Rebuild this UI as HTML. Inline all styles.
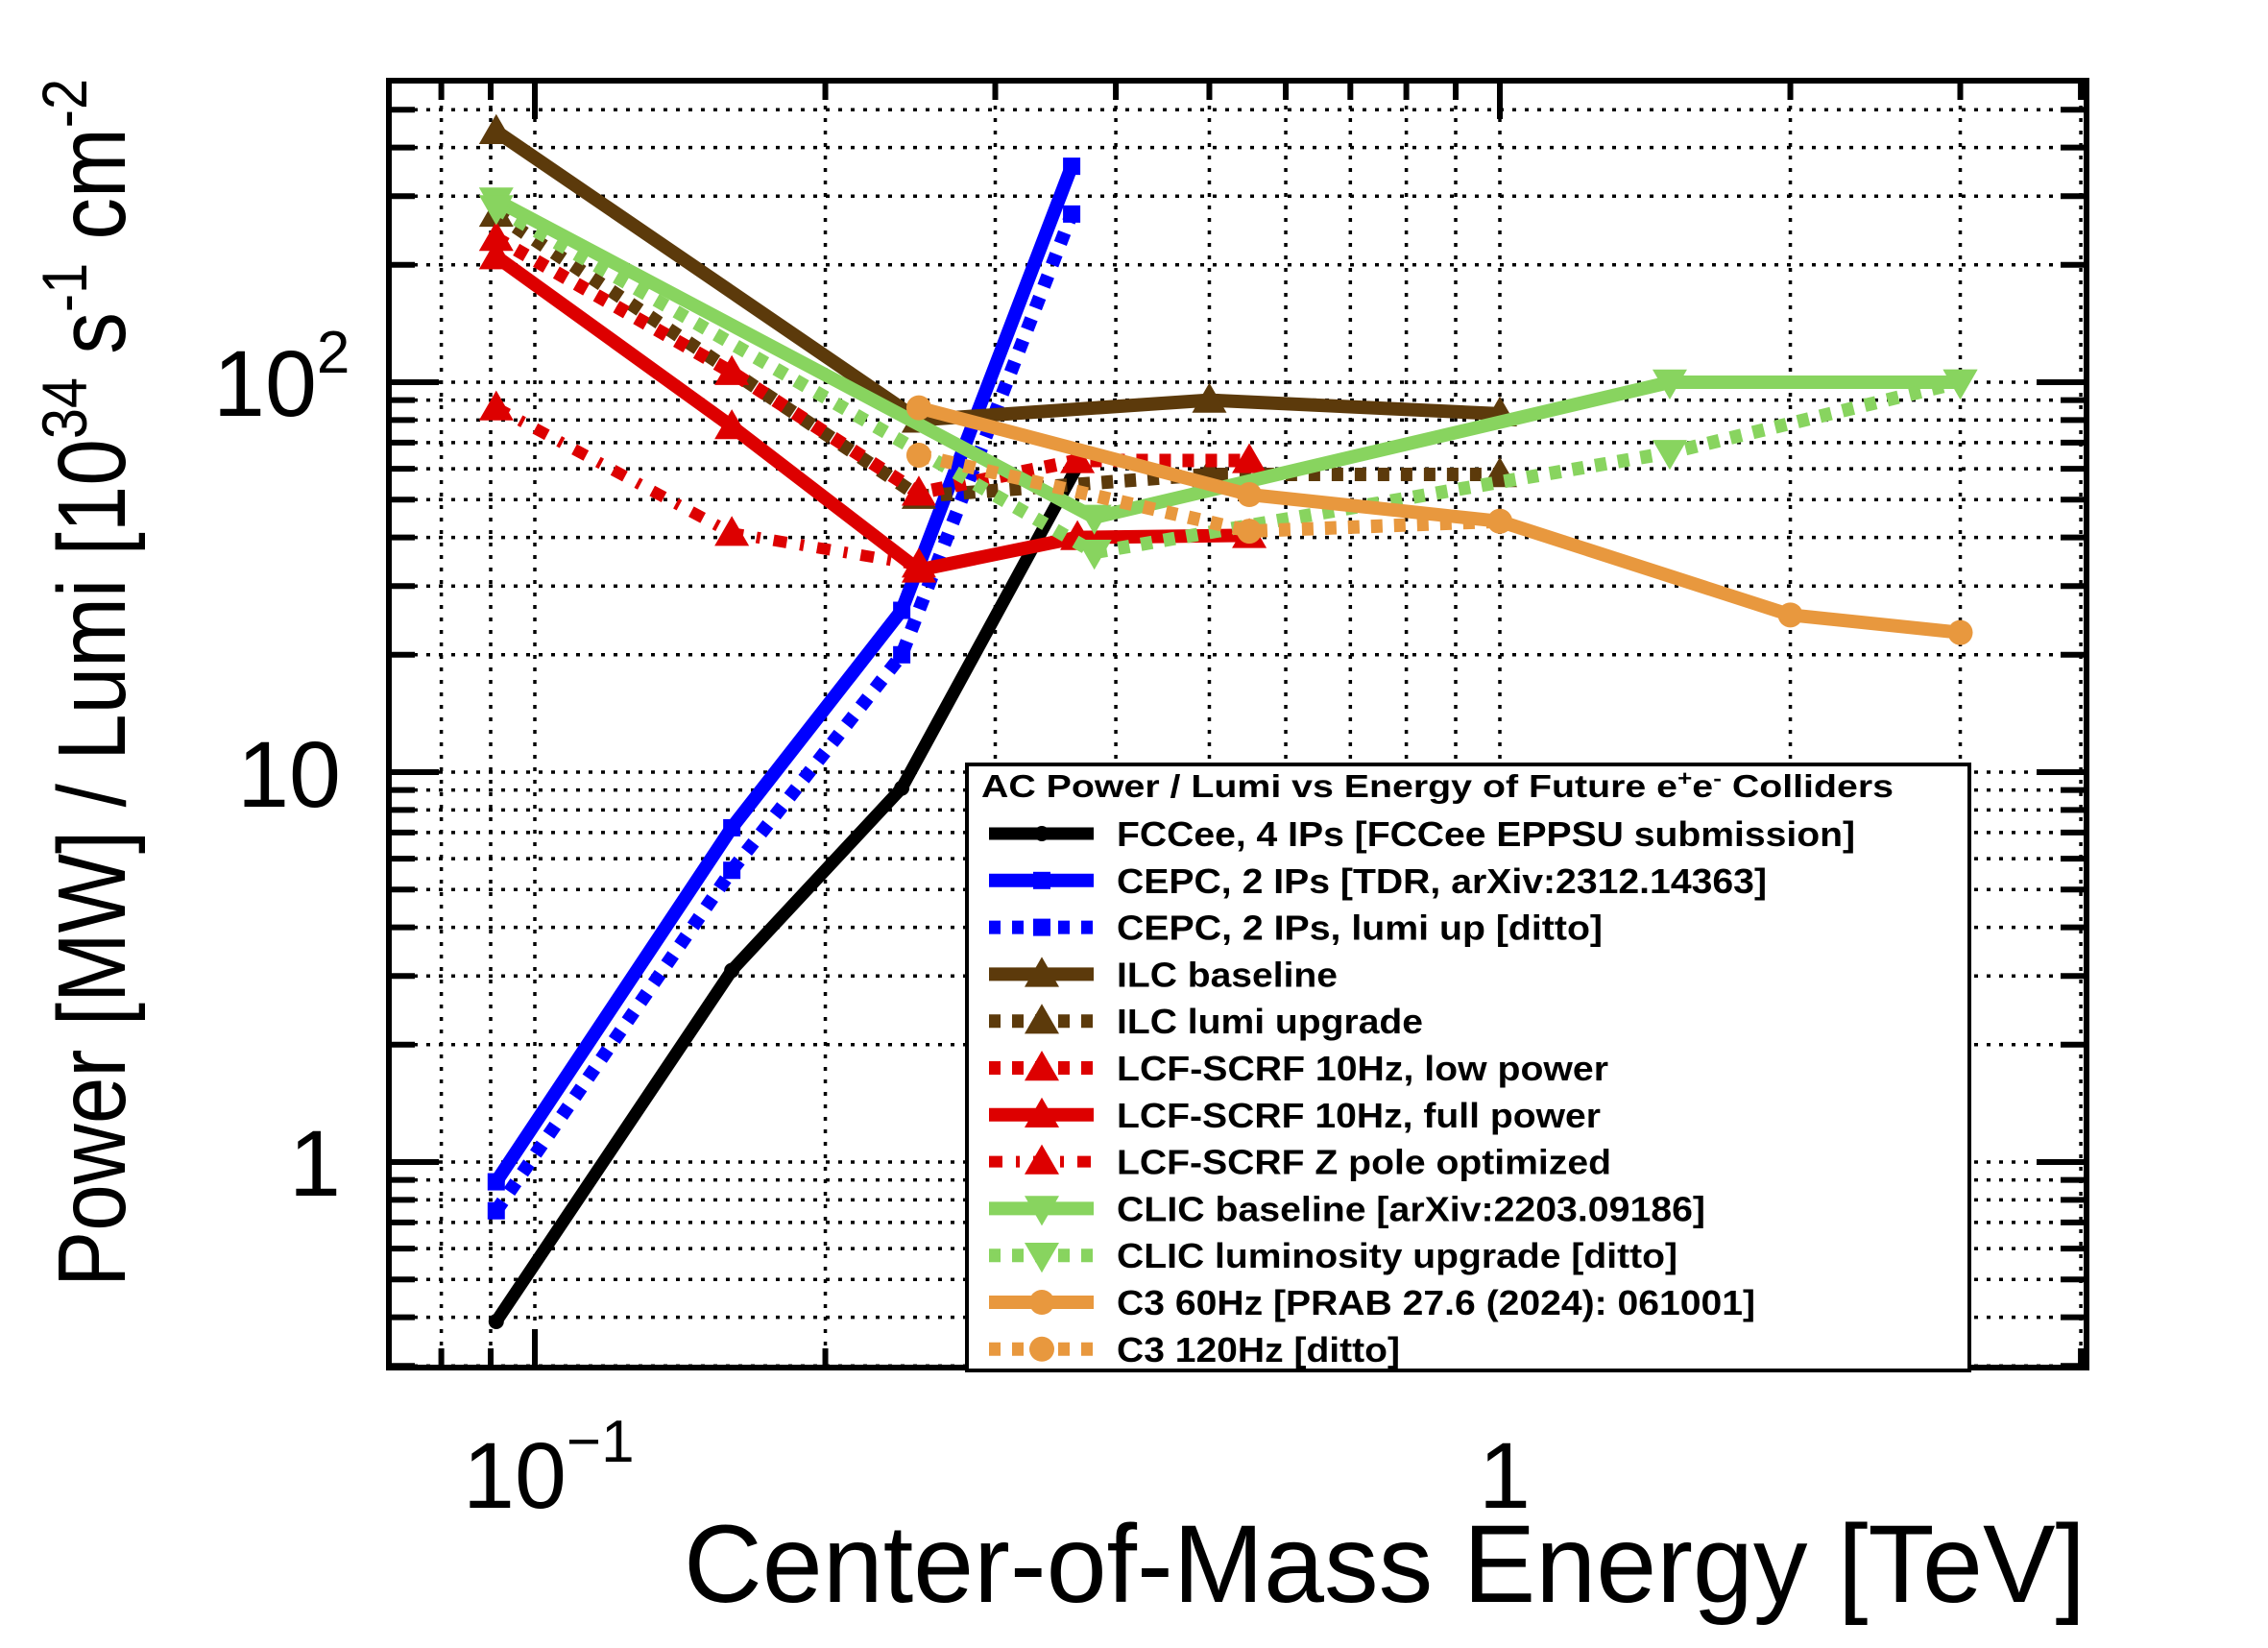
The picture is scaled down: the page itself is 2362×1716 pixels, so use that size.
<!DOCTYPE html>
<html>
<head>
<meta charset="utf-8">
<style>
html,body{margin:0;padding:0;background:#fff;}
svg{display:block;}
text{font-family:"Liberation Sans",Arial,sans-serif;}
</style>
</head>
<body>
<svg id="chart" width="2362" height="1716" viewBox="0 0 2362 1716" xmlns="http://www.w3.org/2000/svg">
  <rect x="0" y="0" width="2362" height="1716" fill="#fff"/>
  <g id="grid"></g>
  <g id="ticks"></g>
  <g id="series"></g>
  <rect x="405" y="84" width="1768" height="1340" fill="none" stroke="#000" stroke-width="6"/>
  <g id="legend">
    <rect x="1007" y="796" width="1044" height="631" fill="#fff" stroke="#000" stroke-width="4"/>
    <text x="1022" y="830" font-size="33" font-weight="bold" textLength="950" lengthAdjust="spacingAndGlyphs">AC Power / Lumi vs Energy of Future e<tspan dy="-12" font-size="22">+</tspan><tspan dy="12">e</tspan><tspan dy="-12" font-size="22">-</tspan><tspan dy="12"> Colliders</tspan></text>
  </g>
  <g id="xlabels">
    <text x="482" y="1570" font-size="97">10<tspan dy="-48" font-size="62">−1</tspan></text>
    <text x="1567" y="1570" font-size="97" text-anchor="middle">1</text>
    <text x="2172" y="1668" font-size="115" text-anchor="end" textLength="1460" lengthAdjust="spacingAndGlyphs">Center-of-Mass Energy [TeV]</text>
  </g>
  <g id="ylabels">
    <text x="355" y="1245" font-size="97" text-anchor="end">1</text>
    <text x="355" y="840" font-size="97" text-anchor="end">10</text>
    <text x="222" y="433" font-size="97">10<tspan dy="-45" font-size="62">2</tspan></text>
    <text transform="translate(130,1340) rotate(-90)" font-size="100" textLength="1258" lengthAdjust="spacingAndGlyphs">Power [MW] / Lumi [10<tspan dy="-40" font-size="66">34</tspan><tspan dy="40"> s</tspan><tspan dy="-40" font-size="66">-1</tspan><tspan dy="40"> cm</tspan><tspan dy="-40" font-size="66">-2</tspan></text>
  </g>
</svg>
<script>
// ---- data (Energy in TeV, Power/Lumi) ----
const fccE = [0.0912, 0.16, 0.24, 0.365];
const fccP = [0.39, 3.1, 9.1, 61];
const cepcE = [0.0912, 0.16, 0.24, 0.36];
const cepcP = [0.89, 7.2, 26, 358];
const cepcUpE = [0.0912, 0.16, 0.24, 0.36];
const cepcUpP = [0.75, 5.6, 20, 270];
const ilcE = [0.0912, 0.25, 0.5, 1.0];
const ilcP = [440, 80, 90, 83];
const ilcUpE = [0.0912, 0.25, 0.5, 1.0];
const ilcUpP = [270, 51, 58, 58];
const lcfLowE = [0.0912, 0.16, 0.25, 0.365, 0.55];
const lcfLowP = [234, 106, 52, 63, 63];
const lcfFullE = [0.0912, 0.16, 0.25, 0.365, 0.55];
const lcfFullP = [210, 77, 33, 40, 40.5];
const lcfZE = [0.0912, 0.16, 0.25];
const lcfZP = [86, 41, 34];
const clicE = [0.0912, 0.38, 1.5, 3.0];
const clicP = [293, 45, 100, 100];
const clicUpE = [0.0912, 0.38, 1.5, 3.0];
const clicUpP = [280, 36.6, 66, 100];
const c3E = [0.25, 0.55, 1.0, 2.0, 3.0];
const c3P = [86, 51.5, 44, 25.3, 22.8];
const c3hE = [0.25, 0.55, 1.0];
const c3hP = [65, 41.5, 44];
const yGridVals = [0.3,0.4,0.5,0.6,0.7,0.8,0.9,1,2,3,4,5,6,7,8,9,10,20,30,40,50,60,70,80,90,100,200,300,400,500];
const yMajor = [1,10,100];
const xGridVals = [0.08,0.09,0.1,0.2,0.3,0.4,0.5,0.6,0.7,0.8,0.9,1,2,3,4];
const xMajor = [0.1,1];

const NS = "http://www.w3.org/2000/svg";
function X(e){ return 557 + 1005*Math.log10(e/0.1); }
function Y(v){ return 398 - 406*Math.log10(v/100); }
function mk(tag, attrs, parent){
  const el = document.createElementNS(NS, tag);
  for (const k in attrs) el.setAttribute(k, attrs[k]);
  parent.appendChild(el);
  return el;
}
const L=405, R=2173, T=84, B=1424;
const grid = document.getElementById('grid');
const ticks = document.getElementById('ticks');
yGridVals.forEach(v=>{
  const y = Y(v);
  if (y < T || y > B) return;
  const g = mk('line',{x1:L,x2:R,y1:y,y2:y,stroke:'#000','stroke-width':3.5,'stroke-dasharray':'4 9'},grid);
  
  
  const len = yMajor.includes(v) ? 52 : 27;
  const t1 = mk('line',{x1:L,x2:L+len,y1:y,y2:y,stroke:'#000','stroke-width':6},ticks);
  
  
  const t2 = mk('line',{x1:R-len,x2:R,y1:y,y2:y,stroke:'#000','stroke-width':6},ticks);
  
  
});
xGridVals.forEach(e=>{
  const x = X(e);
  if (x < L || x > R) return;
  const g = mk('line',{x1:x,x2:x,y1:T,y2:B,stroke:'#000','stroke-width':3.5,'stroke-dasharray':'4 9'},grid);
  
  
  const len = xMajor.includes(e) ? 40 : 20;
  const t1 = mk('line',{x1:x,x2:x,y1:B-len,y2:B,stroke:'#000','stroke-width':6},ticks);
  
  
  const t2 = mk('line',{x1:x,x2:x,y1:T,y2:T+len,stroke:'#000','stroke-width':6},ticks);
  
  
});

const series = [
  {id:'fccee', label:'FCCee, 4 IPs [FCCee EPPSU submission]', xs:fccE, ys:fccP, color:'#000000', dash:'', marker:'circle', ms:8, w:13},
  {id:'cepc', label:'CEPC, 2 IPs [TDR, arXiv:2312.14363]', xs:cepcE, ys:cepcP, color:'#0000ff', dash:'', marker:'square', ms:18, w:14},
  {id:'cepc-lumi-up', label:'CEPC, 2 IPs, lumi up [ditto]', xs:cepcUpE, ys:cepcUpP, color:'#0000ff', dash:'12 12', marker:'square', ms:18, w:14},
  {id:'ilc-baseline', label:'ILC baseline', xs:ilcE, ys:ilcP, color:'#5c3a0b', dash:'', marker:'tri-up', ms:24, w:14},
  {id:'ilc-lumi-upgrade', label:'ILC lumi upgrade', xs:ilcUpE, ys:ilcUpP, color:'#5c3a0b', dash:'12 12', marker:'tri-up', ms:24, w:14},
  {id:'lcf-low', label:'LCF-SCRF 10Hz, low power', xs:lcfLowE, ys:lcfLowP, color:'#dd0000', dash:'12 12', marker:'tri-up', ms:24, w:14},
  {id:'lcf-full', label:'LCF-SCRF 10Hz, full power', xs:lcfFullE, ys:lcfFullP, color:'#dd0000', dash:'', marker:'tri-up', ms:24, w:14},
  {id:'lcf-zpole', label:'LCF-SCRF Z pole optimized', xs:lcfZE, ys:lcfZP, color:'#dd0000', dash:'14 14 4 14', marker:'tri-up', ms:24, w:12},
  {id:'clic-baseline', label:'CLIC baseline [arXiv:2203.09186]', xs:clicE, ys:clicP, color:'#88d45f', dash:'', marker:'tri-down', ms:24, w:14},
  {id:'clic-lumi-upgrade', label:'CLIC luminosity upgrade [ditto]', xs:clicUpE, ys:clicUpP, color:'#88d45f', dash:'12 12', marker:'tri-down', ms:24, w:14},
  {id:'c3-60hz', label:'C3 60Hz [PRAB 27.6 (2024): 061001]', xs:c3E, ys:c3P, color:'#e8983e', dash:'', marker:'circle', ms:13, w:14},
  {id:'c3-120hz', label:'C3 120Hz [ditto]', xs:c3hE, ys:c3hP, color:'#e8983e', dash:'12 12', marker:'circle', ms:13, w:14}
];

function drawMarker(parent, type, cx, cy, s, color){
  let el;
  if (type==='circle') el = mk('circle',{cx:cx,cy:cy,r:s,fill:color},parent);
  else if (type==='square') el = mk('rect',{x:cx-s/2,y:cy-s/2,width:s,height:s,fill:color},parent);
  else if (type==='tri-up') el = mk('polygon',{points:`${cx},${cy-s*0.75} ${cx-s*0.75},${cy+s*0.55} ${cx+s*0.75},${cy+s*0.55}`,fill:color},parent);
  else el = mk('polygon',{points:`${cx},${cy+s*0.75} ${cx-s*0.75},${cy-s*0.55} ${cx+s*0.75},${cy-s*0.55}`,fill:color},parent);
  return el;
}

const sl = document.getElementById('series');
const lg = document.getElementById('legend');
const labelWidths = [769, 677, 506, 230, 319, 512, 504, 515, 613, 584, 665, 295];
series.forEach((s,i)=>{
  const g = mk('g',{},sl);
  
  
  const pts = s.xs.map((e,j)=>X(e).toFixed(1)+','+Y(s.ys[j]).toFixed(1)).join(' ');
  const attrs = {points:pts,fill:'none',stroke:s.color,'stroke-width':s.w,'stroke-linejoin':'round'};
  if (s.dash) attrs['stroke-dasharray']=s.dash;
  const pl = mk('polyline',attrs,g);
  
  
  s.xs.forEach((e,j)=>{
    const m = drawMarker(g, s.marker, X(e), Y(s.ys[j]), s.ms, s.color);
    
    
  });
  const ly = 868 + i*48.8;
  const eg = mk('g',{},lg);
  
  
  const la = {x1:1030,x2:1139,y1:ly,y2:ly,stroke:s.color,'stroke-width':s.w};
  if (s.dash) la['stroke-dasharray']=s.dash;
  const ll = mk('line',la,eg);
  
  
  const lm = drawMarker(eg, s.marker, 1085, ly, s.ms, s.color);
  
  
  const tx = mk('text',{x:1163,y:ly+13,'font-size':36,'font-weight':'bold',textLength:labelWidths[i],lengthAdjust:'spacingAndGlyphs'},eg);
  tx.textContent = s.label;
  
  
});
</script>
</body>
</html>
